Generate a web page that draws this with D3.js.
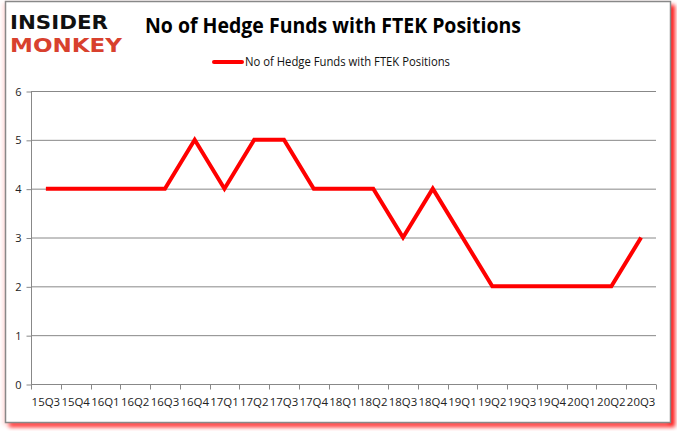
<!DOCTYPE html>
<html><head><meta charset="utf-8">
<script src="https://cdn.jsdelivr.net/npm/d3@7"></script>
<style>body{margin:0;background:#fff}svg{display:block}</style>
</head><body>
<script>
const categories = ["15Q3","15Q4","16Q1","16Q2","16Q3","16Q4","17Q1","17Q2","17Q3","17Q4","18Q1","18Q2","18Q3","18Q4","19Q1","19Q2","19Q3","19Q4","20Q1","20Q2","20Q3"];
const values = [4,4,4,4,4,5,4,5,5,4,4,4,3,4,3,2,2,2,2,2,3];
const yTicks = [0,1,2,3,4,5,6];
const seriesName = "No of Hedge Funds with FTEK Positions";
const title = "No of Hedge Funds with FTEK Positions";

(function(){
const W = 677, H = 431;
const svg = d3.select("body").append("svg").attr("width", W).attr("height", H);
const defs = svg.append("defs");
const f = defs.append("filter").attr("id","sh").attr("x","-5%").attr("y","-5%").attr("width","110%").attr("height","110%");
f.append("feGaussianBlur").attr("stdDeviation", 2);

// frame with red shadow
svg.append("rect").attr("x", 9).attr("y", 5).attr("width", 666).attr("height", 422)
  .attr("fill", "#ff0000").attr("opacity", 0.9).attr("filter", "url(#sh)");
svg.append("rect").attr("x", 3).attr("y", 3).attr("width", 666).attr("height", 422)
  .attr("fill", "#ffb0b0").attr("opacity", 0.5).attr("filter", "url(#sh)");
svg.append("rect").attr("x", 5.5).attr("y", 1.5).attr("width", 665).attr("height", 421)
  .attr("fill", "#fff").attr("stroke", "#888").attr("stroke-width", 1.5);

// logo
svg.append("text").attr("x", 10).attr("y", 28.5).attr("textLength", 98).attr("lengthAdjust","spacingAndGlyphs")
  .style("font-family","DejaVu Sans").style("font-weight","bold").style("font-size","20px").attr("fill","#111").text("INSIDER");
svg.append("text").attr("x", 10).attr("y", 52).attr("textLength", 112).attr("lengthAdjust","spacingAndGlyphs")
  .style("font-family","DejaVu Sans").style("font-weight","bold").style("font-size","20px").attr("fill","#d8412e").text("MONKEY");

// title
svg.append("text").attr("x", 145).attr("y", 33).attr("textLength", 376).attr("lengthAdjust","spacingAndGlyphs")
  .style("font-family","Open Sans, Liberation Sans, sans-serif").style("font-weight","bold").style("font-size","21px")
  .attr("fill","#000").text(title);

// legend
svg.append("line").attr("x1", 214).attr("x2", 242).attr("y1", 62).attr("y2", 62)
  .attr("stroke", "#ff0000").attr("stroke-width", 4).attr("stroke-linecap","round");
svg.append("text").attr("x", 245).attr("y", 66).attr("textLength", 205).attr("lengthAdjust","spacingAndGlyphs")
  .style("font-family","Open Sans, Liberation Sans, sans-serif").style("font-size","12px").attr("fill","#111").text(seriesName);

const pl = 31, pr = 656, pt = 91, pb = 384;
const x = d3.scaleBand().domain(categories).range([pl, pr]);
const y = d3.scaleLinear().domain([0, 6]).range([pb, pt]);

// gridlines
svg.append("g").selectAll("line").data(yTicks.filter(d => d > 0)).join("line")
  .attr("x1", pl).attr("x2", pr).attr("y1", d => y(d) + 0.5).attr("y2", d => y(d) + 0.5)
  .attr("stroke", "#888").attr("stroke-width", 1);

// y axis
const yAxis = d3.axisLeft(y).tickValues(yTicks).tickFormat(d3.format("d")).tickSize(5).tickPadding(5);
const gy = svg.append("g").attr("transform", `translate(${pl + 0.5},0.5)`).call(yAxis);
gy.select(".domain").attr("stroke", "#888").attr("d", `M0,${pt}V${pb}`);
gy.selectAll(".tick line").attr("stroke", "#888");
gy.selectAll(".tick text").style("font-family","Open Sans, Liberation Sans, sans-serif").style("font-size","11px").attr("fill","#222");

// x axis
const gx = svg.append("g").attr("transform", `translate(0,${pb + 0.5})`);
gx.append("line").attr("x1", pl).attr("x2", pr).attr("stroke", "#888");
const bounds = categories.map(c => x(c)).concat([pr]);
gx.selectAll("line.tk").data(bounds).join("line").attr("class","tk")
  .attr("x1", d => Math.round(d) + 0.5).attr("x2", d => Math.round(d) + 0.5).attr("y1", 0).attr("y2", 5).attr("stroke", "#888");
gx.selectAll("text").data(categories).join("text")
  .attr("x", d => x(d) + x.bandwidth() / 2).attr("y", 21).attr("text-anchor","middle")
  .style("font-family","Open Sans, Liberation Sans, sans-serif").style("font-size","11px").attr("fill","#222")
  .attr("textLength", 28.5).attr("lengthAdjust","spacingAndGlyphs").text(d => d);

// line
const line = d3.line().x((d, i) => x(categories[i]) + x.bandwidth() / 2).y(d => y(d));
svg.append("path").datum(values).attr("d", line).attr("fill","none")
  .attr("stroke","#ff0000").attr("stroke-width", 4).attr("stroke-linejoin","miter");
})();
</script>
</body></html>
